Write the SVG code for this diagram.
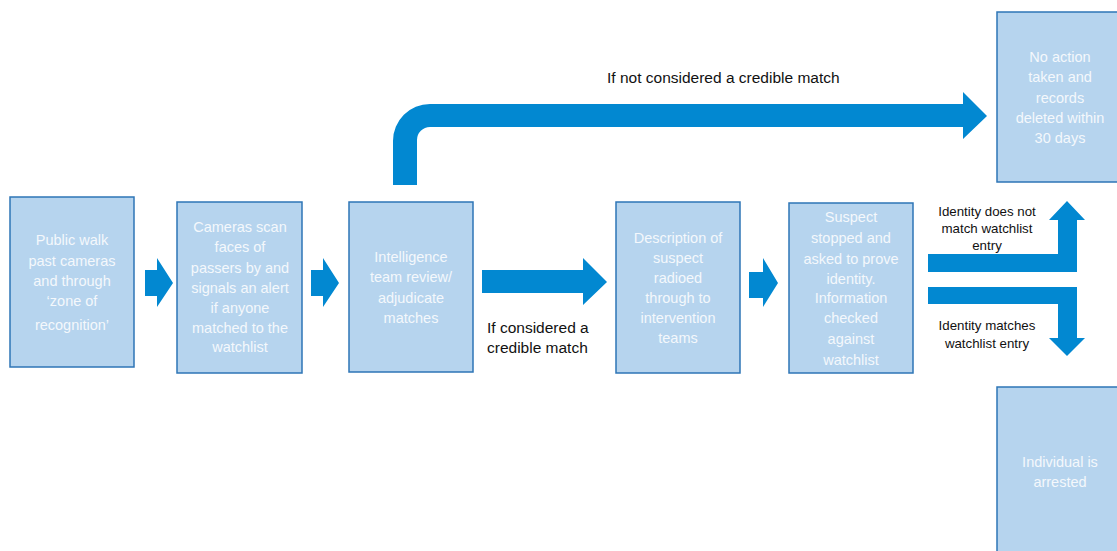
<svg xmlns="http://www.w3.org/2000/svg" width="1117" height="551" viewBox="0 0 1117 551">
<style>
.box{fill:#b6d4ee;stroke:#2e75b6;stroke-width:1.5}
.bt{font-family:"Liberation Sans",Arial,sans-serif;font-size:14.5px;fill:#f4f8fc;text-anchor:middle}
.lbl{font-family:"Liberation Sans",Arial,sans-serif;font-size:15.5px;fill:#111}
.sm{font-family:"Liberation Sans",Arial,sans-serif;font-size:13.3px;fill:#111;text-anchor:middle}
.arr{fill:#0288d1}
</style>
<rect width="1117" height="551" fill="#fff"/>
<g id="connectors">
<polygon class="arr" points="145,270 157,270 157,258 173,283 157,307 157,296 145,296"/>
<polygon class="arr" points="311,270 323,270 323,258 339,283 323,307 323,296 311,296"/>
<polygon class="arr" points="482,270 583,270 583,258 607,282 583,305 583,293 482,293"/>
<polygon class="arr" points="749,272 763,272 763,258 778,283 763,307 763,298 749,298"/>
<path class="arr" d="M393,185 L393,141 A37,37 0 0 1 430,104 L963,104 L963,92 L987,116 L963,139 L963,127 L430,127 A13,13 0 0 0 417,140 L417,185 Z"/>
<polygon class="arr" points="928,254 1058,254 1058,220 1049,220 1067,201 1085,220 1077,220 1077,272 928,272"/>
<polygon class="arr" points="928,287 1077,287 1077,338 1085,338 1067,356 1049,338 1058,338 1058,304 928,304"/>
<text class="lbl" x="607" y="83">If not considered a credible match</text>
<text class="lbl" x="487" y="333">If considered a</text>
<text class="lbl" x="487" y="353">credible match</text>
<text class="sm" x="987" y="215.5">Identity does not</text>
<text class="sm" x="987" y="232.5">match watchlist</text>
<text class="sm" x="987" y="249.5">entry</text>
<text class="sm" x="987" y="329.5">Identity matches</text>
<text class="sm" x="987" y="347.5">watchlist entry</text>
</g>
<g id="node1">
<rect class="box" x="10" y="197" width="124" height="170"/>
<text class="bt" x="72" y="245">Public walk</text>
<text class="bt" x="72" y="266">past cameras</text>
<text class="bt" x="72" y="286">and through</text>
<text class="bt" x="72" y="306">‘zone of</text>
<text class="bt" x="72" y="330">recognition’</text>
</g>
<g id="node2">
<rect class="box" x="177" y="202" width="125" height="171"/>
<text class="bt" x="240" y="232">Cameras scan</text>
<text class="bt" x="240" y="252">faces of</text>
<text class="bt" x="240" y="273">passers by and</text>
<text class="bt" x="240" y="293">signals an alert</text>
<text class="bt" x="240" y="313">if anyone</text>
<text class="bt" x="240" y="333">matched to the</text>
<text class="bt" x="240" y="352">watchlist</text>
</g>
<g id="node3">
<rect class="box" x="349" y="202" width="124" height="170"/>
<text class="bt" x="411" y="262">Intelligence</text>
<text class="bt" x="411" y="282">team review/</text>
<text class="bt" x="411" y="303">adjudicate</text>
<text class="bt" x="411" y="323">matches</text>
</g>
<g id="node4">
<rect class="box" x="616" y="202" width="124" height="171"/>
<text class="bt" x="678" y="243">Description of</text>
<text class="bt" x="678" y="263">suspect</text>
<text class="bt" x="678" y="283">radioed</text>
<text class="bt" x="678" y="303">through to</text>
<text class="bt" x="678" y="323">intervention</text>
<text class="bt" x="678" y="343">teams</text>
</g>
<g id="node5">
<rect class="box" x="789" y="203" width="124" height="170"/>
<text class="bt" x="851" y="222">Suspect</text>
<text class="bt" x="851" y="243">stopped and</text>
<text class="bt" x="851" y="264">asked to prove</text>
<text class="bt" x="851" y="284">identity.</text>
<text class="bt" x="851" y="303">Information</text>
<text class="bt" x="851" y="323">checked</text>
<text class="bt" x="851" y="344">against</text>
<text class="bt" x="851" y="365">watchlist</text>
</g>
<g id="node6">
<rect class="box" x="997" y="12" width="126" height="170"/>
<text class="bt" x="1060" y="62">No action</text>
<text class="bt" x="1060" y="82">taken and</text>
<text class="bt" x="1060" y="103">records</text>
<text class="bt" x="1060" y="123">deleted within</text>
<text class="bt" x="1060" y="143">30 days</text>
</g>
<g id="node7">
<rect class="box" x="997" y="387" width="126" height="170"/>
<text class="bt" x="1060" y="467">Individual is</text>
<text class="bt" x="1060" y="487">arrested</text>
</g>
</svg>
